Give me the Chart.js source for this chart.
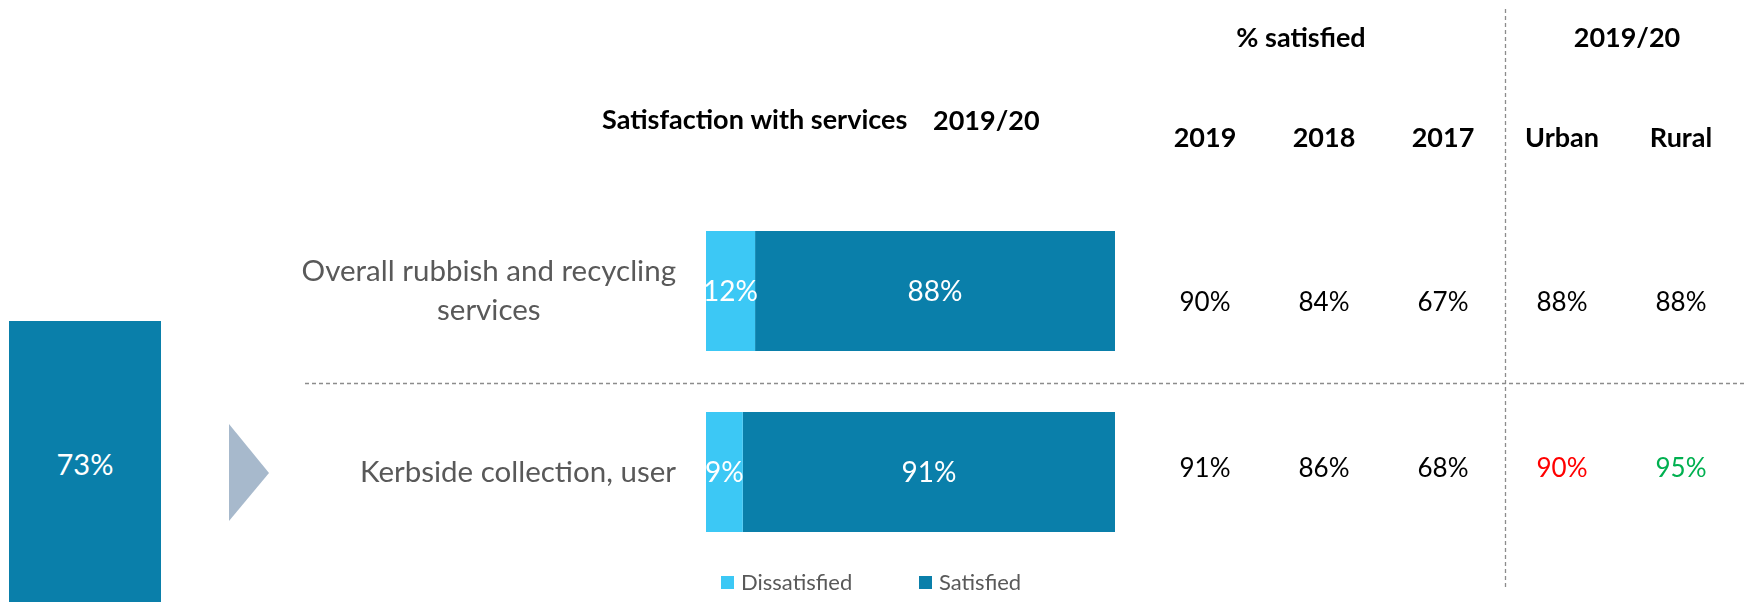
<!DOCTYPE html>
<html lang="en">
<head>
    <meta charset="UTF-8">
    <title>Satisfaction with services 2019/20</title>
    <script src="https://cdn.jsdelivr.net/npm/chart.js"></script>
    <style>
        body { margin: 0; background: #fff; }
        #wrap { position: relative; width: 1746px; height: 602px; overflow: hidden; }
        #scoreTile {
            position: absolute; left: 9px; top: 321px; width: 152px; height: 284px;
            background: #0a7faa; color: #fff;
            font: 29px Lato, sans-serif;
            display: flex; align-items: center; justify-content: center;
        }
    </style>
</head>
<body>
<div id="wrap">
    <canvas id="servicesChart" width="1746" height="602"></canvas>
    <div id="scoreTile"></div>
</div>

<script>
    // data
    const overallScore = 73;
    const categories = [['Overall rubbish and recycling', 'services'], ['Kerbside collection, user']];
    const dissatisfied = [12, 9];
    const satisfied = [88, 91];

    const tableColumns = ['2019', '2018', '2017', 'Urban', 'Rural'];
    const satisfied2019 = [90, 91];
    const satisfied2018 = [84, 86];
    const satisfied2017 = [67, 68];
    const urban = [88, 90];
    const rural = [88, 95];

    // layout / styling
    const colX = [1205, 1324, 1443, 1562, 1681];
    const rowOffset = [12, -3];
    const cellColours = [
        ['#000', '#000', '#000', '#000', '#000'],
        ['#000', '#000', '#000', '#ff0000', '#00b050']
    ];
    const greyText = '#595959';
    const font = 'Lato, sans-serif';

    document.getElementById('scoreTile').textContent = overallScore + '%';

    function dashed(ctx, x1, y1, x2, y2) {
        ctx.save();
        ctx.strokeStyle = '#8c8c8c';
        ctx.lineWidth = 1.3;
        ctx.setLineDash([4, 3]);
        ctx.beginPath();
        ctx.moveTo(x1, y1);
        ctx.lineTo(x2, y2);
        ctx.stroke();
        ctx.restore();
    }

    const decorPlugin = {
        id: 'decor',
        afterDraw(chart) {
            const ctx = chart.ctx;
            const yScale = chart.scales.y;
            ctx.save();

            // bar value labels
            ctx.fillStyle = '#fff';
            ctx.font = '28px ' + font;
            ctx.textAlign = 'center';
            ctx.textBaseline = 'middle';
            chart.data.datasets.forEach((ds, di) => {
                chart.getDatasetMeta(di).data.forEach((bar, i) => {
                    ctx.fillText(ds.data[i] + '%', (bar.x + bar.base) / 2, bar.y + 1);
                });
            });

            // category labels, right aligned block, lines centred
            ctx.fillStyle = greyText;
            ctx.font = '29.5px ' + font;
            categories.forEach((lines, i) => {
                const w = Math.max(...lines.map(l => ctx.measureText(l).width));
                const cx = 676 - w / 2;
                const yc = yScale.getPixelForValue(i);
                const lh = 39;
                lines.forEach((l, k) => {
                    ctx.fillText(l, cx, yc - (lines.length - 1) * lh / 2 + k * lh);
                });
            });

            // chart heading
            ctx.fillStyle = '#000';
            ctx.font = 'bold 27px ' + font;
            ctx.textAlign = 'left';
            ctx.fillText('Satisfaction with services', 602, 120);
            ctx.fillText('2019/20', 933, 121);

            // legend
            ctx.font = '22px ' + font;
            let lx = 721;
            chart.data.datasets.forEach((ds, di) => {
                ctx.fillStyle = ds.backgroundColor;
                ctx.fillRect(lx, 576, 13, 13);
                ctx.fillStyle = greyText;
                ctx.fillText(ds.label, lx + 20, 583);
                lx = 919;
            });

            // table
            ctx.fillStyle = '#000';
            ctx.textAlign = 'center';
            ctx.font = 'bold 27px ' + font;
            ctx.fillText('% satisfied', 1301, 38);
            ctx.fillText('2019/20', 1627, 38);
            ctx.font = 'bold 27px ' + font;
            tableColumns.forEach((c, j) => ctx.fillText(c, colX[j], 138));

            const cols = [satisfied2019, satisfied2018, satisfied2017, urban, rural];
            ctx.font = '26px ' + font;
            categories.forEach((_, i) => {
                const y = yScale.getPixelForValue(i) + rowOffset[i];
                cols.forEach((col, j) => {
                    ctx.fillStyle = cellColours[i][j];
                    ctx.fillText(col[i] + '%', colX[j], y);
                });
            });

            // separators
            dashed(ctx, 305, yScale.getPixelForValue(0.5) + 2, 1746, yScale.getPixelForValue(0.5) + 2);
            dashed(ctx, 1505.5, 9, 1505.5, 588);

            // arrow
            ctx.fillStyle = '#a7b9cc';
            ctx.beginPath();
            ctx.moveTo(229, 424);
            ctx.lineTo(269, 473);
            ctx.lineTo(229, 521);
            ctx.closePath();
            ctx.fill();

            ctx.restore();
        }
    };

    new Chart(document.getElementById('servicesChart'), {
        type: 'bar',
        data: {
            labels: categories,
            datasets: [{
                label: 'Dissatisfied',
                data: dissatisfied,
                backgroundColor: '#3cc8f5'
            }, {
                label: 'Satisfied',
                data: satisfied,
                backgroundColor: '#0a7faa'
            }]
        },
        options: {
            indexAxis: 'y',
            responsive: false,
            animation: false,
            layout: { padding: { left: 706, right: 631, top: 200.5, bottom: 39.5 } },
            datasets: { bar: { categoryPercentage: 1, barPercentage: 0.663 } },
            scales: {
                x: { stacked: true, min: 0, max: 100, display: false },
                y: { stacked: true, display: false }
            },
            plugins: {
                legend: { display: false },
                tooltip: { enabled: false }
            }
        },
        plugins: [decorPlugin]
    });
</script>
</body>
</html>
